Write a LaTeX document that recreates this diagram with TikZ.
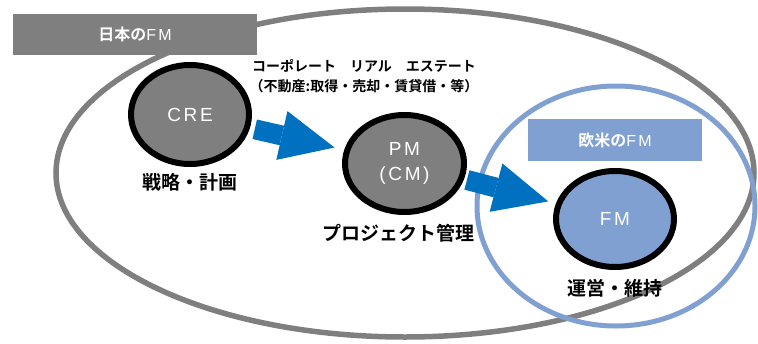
\documentclass[tikz,border=0pt]{standalone}
\usepackage{fontspec}
\setmainfont{Liberation Sans}
\newfontfamily\jp[BoldFont={Noto Sans CJK JP Bold}]{Noto Sans CJK JP}
\newfontfamily\lat[LetterSpace=14]{Liberation Sans}
\usetikzlibrary{shapes.geometric,arrows.meta}
\definecolor{fmgray}{RGB}{127,127,127}
\definecolor{fmlight}{RGB}{128,160,210}
\definecolor{arrowblue}{RGB}{0,112,192}
\begin{document}
\begin{tikzpicture}[x=1pt,y=-1pt,
  ring/.style={ellipse, inner sep=0pt},
  tag/.style={rectangle, inner sep=0pt, text=white, font=\jp\bfseries\fontsize{16}{18}\selectfont},
  stage/.style={ellipse, draw=black, line width=6pt, text=white, align=center, inner sep=0pt,
    font=\lat\fontsize{19}{25}\selectfont},
  caption/.style={inner sep=0pt, font=\jp\bfseries\fontsize{19}{22}\selectfont},
  flow/.style={draw=arrowblue, line width=20pt, -{Triangle[length=54pt,width=50pt,line width=0pt]}}]
\useasboundingbox (0,0) rectangle (758,343);
% outer rings
\node[ring, draw=fmgray, line width=5.5pt, minimum width=698pt, minimum height=328pt] (japan) at (405,173) {};
\node[tag, fill=fmgray, minimum width=244pt, minimum height=41pt] (jptag) at (135,34.5) {日本の{\mdseries\lat FM}};
\node[ring, draw=fmlight, line width=5pt, minimum width=278pt, minimum height=240pt] (west) at (616,206) {};
\node[tag, fill=fmlight, minimum width=174pt, minimum height=42pt] (wtag) at (615,140) {欧米の{\mdseries\lat FM}};
% stages
\node[stage, fill=fmgray, minimum width=118pt, minimum height=99pt] (cre) at (190,114.5) {CRE};
\node[stage, fill=fmgray, minimum width=119pt, minimum height=97pt] (pm) at (404.5,163.5) {PM\\(CM)};
\node[stage, fill=fmlight, minimum width=118pt, minimum height=96pt] (fm) at (615,219) {FM};
% captions
\node[caption] (c1) at (190,182) {戦略・計画};
\node[caption] (c2) at (398,233) {プロジェクト管理};
\node[caption] (c3) at (615,288) {運営・維持};
\node[inner sep=0pt, align=center, font=\jp\bfseries\fontsize{14}{20}\selectfont] (note) at (364,76)
  {コーポレート　リアル　エステート\\（不動産:取得・売却・賃貸借・等）};
% arrows
\draw[flow, shorten <=5pt, shorten >=10pt] (cre) -- (pm);
\draw[flow, shorten <=3pt, shorten >=8pt] (pm) -- (fm);
\end{tikzpicture}
\end{document}
